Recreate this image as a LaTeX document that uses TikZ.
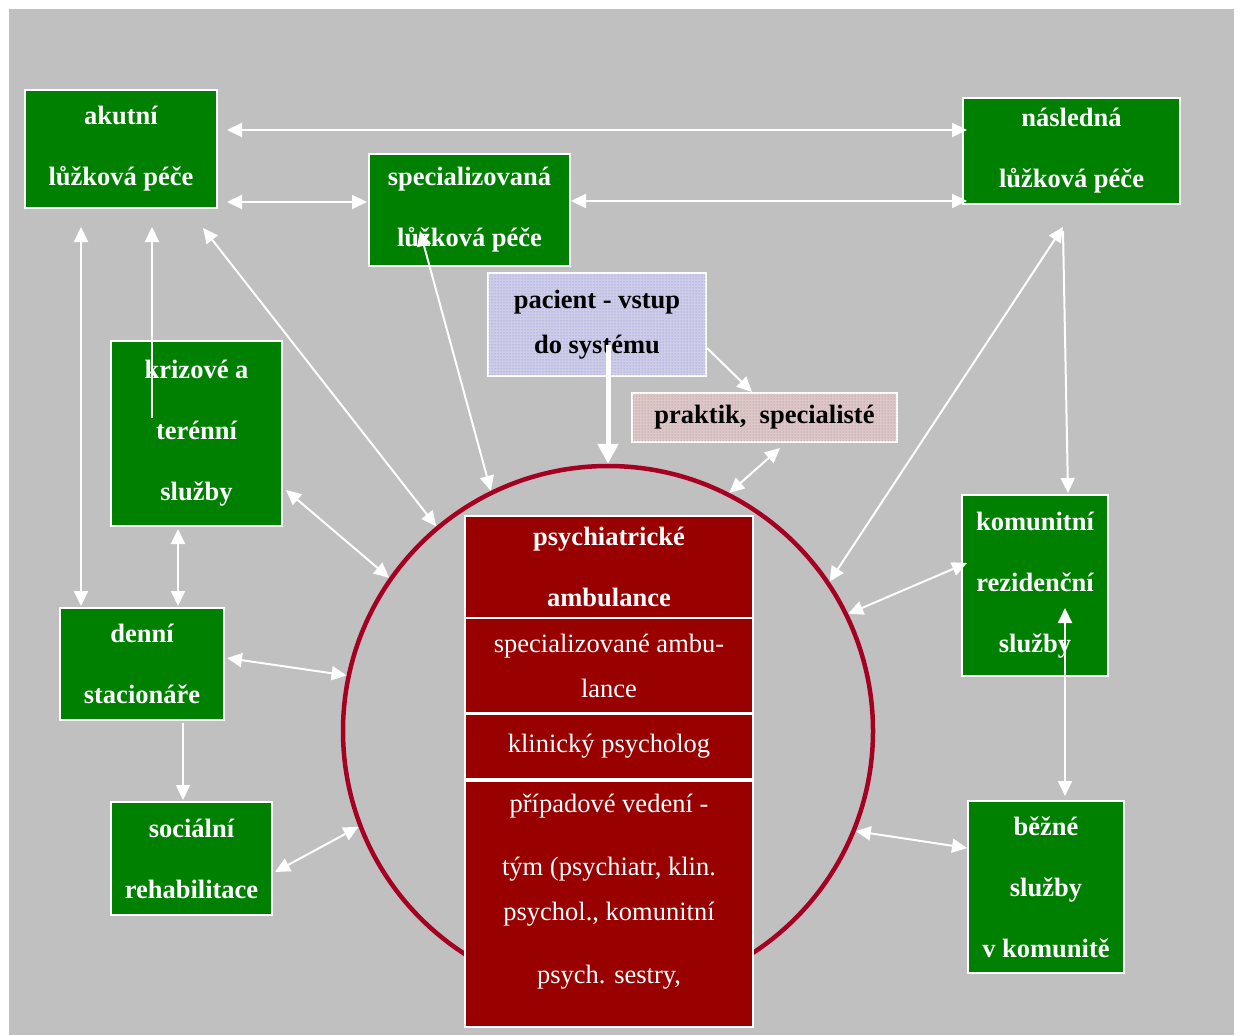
\documentclass[tikz,border=0pt]{standalone}
\usepackage{fontspec}
\setmainfont{Liberation Serif}
\usetikzlibrary{arrows.meta,patterns,calc}
\definecolor{bggray}{RGB}{192,192,192}
\definecolor{boxgreen}{RGB}{0,128,0}
\definecolor{boxred}{RGB}{153,0,0}
\definecolor{ringred}{RGB}{165,0,33}
\definecolor{lav}{RGB}{205,205,232}
\definecolor{lavdot}{RGB}{130,130,215}
\definecolor{pinkbg}{RGB}{220,200,200}
\definecolor{pinkdot}{RGB}{180,115,115}
\tikzset{
  gbox/.style={draw=white, line width=2pt, fill=boxgreen, text=white,
    font=\bfseries\fontsize{26.5}{61}\selectfont, align=center, inner sep=0pt},
  rbox/.style={draw=white, line width=2pt, fill=boxred, text=white,
    font=\fontsize{26.5}{45}\selectfont, align=center, inner sep=0pt,
    minimum width=288pt},
  pbox/.style={draw=white, line width=2pt, fill=lav, text=black,
    postaction={pattern=dots, pattern color=lavdot},
    font=\bfseries\fontsize{26.5}{45}\selectfont, align=center, inner sep=0pt},
  kbox/.style={draw=white, line width=2pt, fill=pinkbg, text=black,
    postaction={pattern=dots, pattern color=pinkdot},
    font=\bfseries\fontsize{26.5}{45}\selectfont, align=center, inner sep=0pt},
  both/.style={draw=white, line width=2pt,
    {Triangle[length=15pt,width=14pt]}-{Triangle[length=15pt,width=14pt]}},
  one/.style={draw=white, line width=2pt, -{Triangle[length=15pt,width=14pt]}},
  thick arrow/.style={draw=white, line width=5pt, -{Triangle[length=20pt,width=20pt]}}
}
\begin{document}
\begin{tikzpicture}[x=1pt,y=-1pt]
\useasboundingbox (0,0) rectangle (1238,1035);
\fill[bggray] (9,9) rectangle (1234,1035);

% circle
\node[draw=ringred, line width=4.5pt, circle, minimum size=530pt, inner sep=0pt] (kruh) at (608,731) {};

% central red boxes
\node[rbox, minimum height=103pt, font=\bfseries\fontsize{26.5}{61}\selectfont] (r1) at (609,567) {psychiatrické\\ambulance};
\node[rbox, minimum height=95pt] (r2) at (609,665.5) {specializované ambu-\\lance};
\node[rbox, minimum height=65pt] (r3) at (609,746.5) {klinický psycholog};
\node[rbox, minimum height=246pt, text depth=30pt] (r4) at (609,904) {případové vedení -\\[18pt]tým (psychiatr, klin.\\psychol., komunitní\\[18pt]psych. sestry,};

% green boxes
\node[gbox, minimum width=192pt, minimum height=118pt] (akut) at (121,149) {akutní\\lůžková péče};
\node[gbox, minimum width=201pt, minimum height=112pt] (spec) at (469.5,210) {specializovaná\\lůžková péče};
\node[gbox, minimum width=217pt, minimum height=106pt] (nasl) at (1071.5,151) {následná\\lůžková péče};
\node[gbox, minimum width=171pt, minimum height=185pt] (kriz) at (196.5,433.5) {krizové a\\terénní\\služby};
\node[gbox, minimum width=164pt, minimum height=112pt] (denni) at (142,664) {denní\\stacionáře};
\node[gbox, minimum width=161pt, minimum height=113pt] (soc) at (191.5,858.5) {sociální\\rehabilitace};
\node[gbox, minimum width=146pt, minimum height=181pt] (kom) at (1035,585.5) {komunitní\\rezidenční\\služby};
\node[gbox, minimum width=156pt, minimum height=172pt] (bez) at (1046,887) {běžné\\služby\\v komunitě};

% patterned boxes
\node[pbox, minimum width=218pt, minimum height=103pt] (pac) at (597,324.5) {pacient - vstup\\do systému};
\node[kbox, minimum width=265pt, minimum height=49pt] (prak) at (764.5,417.5) {praktik,\ \ specialisté};

% connectors
\draw[both] ($(akut.east)+(9,-19)$) -- ($(nasl.west)+(5,-21)$);
\draw[both] ($(akut.east)+(9,53)$) -- ($(spec.west)+(-1,-8)$);
\draw[both] ($(spec.east)+(0,-9)$) -- ($(nasl.west)+(5,50)$);
\draw[both] ($(akut.south)+(-40,18)$) -- ($(denni.north)+(-61,-1)$);
\draw[one] ($(kriz.center)+(-44.5,-15.5)$) -- ($(akut.south)+(31,18)$);
\draw[both] ($(akut.south)+(82,19)$) -- (kruh.130.6);
\draw[both] ($(spec.south)+(-49.5,-36)$) -- (kruh.116.2);
\draw[thick arrow] ($(pac.center)+(11,20.5)$) -- (kruh.90);
\draw[one] ($(pac.east)+(0,23.5)$) -- ($(prak.north)+(-12.5,0)$);
\draw[both] ($(prak.south)+(15.5,5)$) -- (kruh.63.2);
\draw[both] ($(kriz.east)+(3,56.5)$) -- (kruh.145.6);
\draw[both] ($(kriz.south)+(-18.5,2)$) -- ($(denni.north)+(36,-1)$);
\draw[both] ($(denni.east)+(2,-6)$) -- (kruh.168.6);
\draw[one] ($(denni.south)+(41,2)$) -- ($(soc.north)+(-8.5,-1)$);
\draw[both] ($(soc.east)+(2,13.5)$) -- (kruh.201.9);
\draw[both] ($(nasl.south)+(-8.5,22)$) -- (kruh.34);
\draw[one] ($(nasl.south)+(-8.5,26)$) -- ($(kom.north)+(33,-1)$);
\draw[both] ($(kom.west)+(6,-22.5)$) -- (kruh.26.9);
\draw[both] ($(kom.center)+(30,22.5)$) -- ($(bez.north)+(19,-4)$);
\draw[both] ($(bez.west)+(0,-39)$) -- (kruh.338.6);
\end{tikzpicture}
\end{document}
